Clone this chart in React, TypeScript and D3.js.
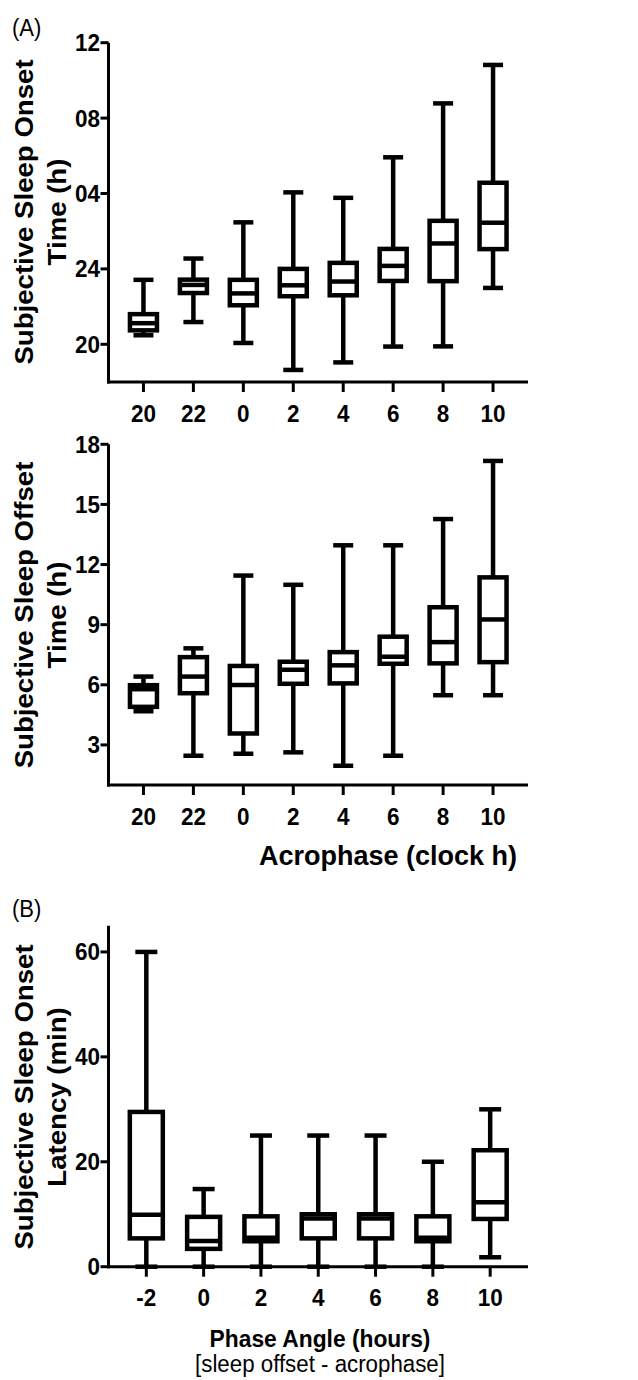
import React from "react";
import * as d3 from "d3";

// ---- Data ----
const acroCats = ["20", "22", "0", "2", "4", "6", "8", "10"];
// Sleep onset (continuous clock hours; values > 24 are after midnight)
const onsetMin = [20.48, 21.18, 20.07, 18.64, 19.04, 19.88, 19.89, 22.99];
const onsetQ1 = [20.74, 22.72, 22.07, 22.55, 22.6, 23.36, 23.35, 25.05];
const onsetMed = [21.12, 23.15, 22.7, 23.13, 23.33, 24.16, 25.35, 26.45];
const onsetQ3 = [21.6, 23.43, 23.42, 24.0, 24.32, 25.06, 26.55, 28.57];
const onsetMax = [23.42, 24.55, 26.47, 28.06, 27.77, 29.92, 32.78, 34.82];
const onsetTicks = [20, 24, 28, 32, 36];
const onsetTickLabels = ["20", "24", "04", "08", "12"];

// Sleep offset (clock hours)
const offsetMin = [4.68, 2.46, 2.56, 2.63, 1.96, 2.46, 5.48, 5.48];
const offsetQ1 = [4.9, 5.58, 3.57, 6.05, 6.07, 7.05, 7.07, 7.13];
const offsetMed = [5.78, 6.41, 5.99, 6.75, 6.97, 7.4, 8.13, 9.26];
const offsetQ3 = [5.98, 7.38, 6.94, 7.15, 7.63, 8.4, 9.87, 11.36];
const offsetMax = [6.41, 7.82, 11.45, 10.99, 12.96, 12.96, 14.27, 17.17];
const offsetTicks = [3, 6, 9, 12, 15, 18];

// Sleep onset latency (min) by phase angle
const phaseCats = ["-2", "0", "2", "4", "6", "8", "10"];
const latMin = [0, 0, 0, 0, 0, 0, 1.8];
const latQ1 = [5.4, 3.4, 4.85, 5.4, 5.4, 4.85, 9.1];
const latMed = [9.9, 4.9, 5.5, 9.2, 9.2, 5.5, 12.3];
const latQ3 = [29.5, 9.5, 9.6, 10.0, 10.0, 9.6, 22.2];
const latMax = [60, 14.8, 25, 25, 25, 20, 30];
const latTicks = [0, 20, 40, 60];

const FONT = "'Liberation Sans', Arial, Helvetica, sans-serif";
const STRETCH = 1.07;
const TICK_FS = 22.5;
const TICK_STRETCH = 1.06;
const LW = 4.5;
const AXW = 3;

type PanelProps = {
  cats: string[];
  mins: number[];
  q1s: number[];
  meds: number[];
  q3s: number[];
  maxs: number[];
  xRange: [number, number];
  pad: number;
  yDomain: [number, number];
  yRange: [number, number];
  ticks: number[];
  tickLabels: string[];
  boxW: number;
  capW: number;
  titleLines: string[];
  titleCy: number;
};

function Panel(p: PanelProps) {
  const x = d3.scalePoint<string>().domain(p.cats).range(p.xRange).padding(p.pad);
  const y = d3.scaleLinear().domain(p.yDomain).range(p.yRange);
  const axisX = p.xRange[0];
  const axisY = y(p.yDomain[0]);
  const capH = 0.716 * TICK_FS * TICK_STRETCH;
  return (
    <g>
      {p.cats.map((c, i) => {
        const cx = x(c) as number;
        const yq1 = y(p.q1s[i]);
        const yq3 = y(p.q3s[i]);
        return (
          <g key={c} stroke="#000" strokeWidth={LW} fill="none">
            <line x1={cx} x2={cx} y1={y(p.maxs[i])} y2={yq3} />
            <line x1={cx} x2={cx} y1={yq1} y2={y(p.mins[i])} />
            <line x1={cx - p.capW / 2} x2={cx + p.capW / 2} y1={y(p.maxs[i])} y2={y(p.maxs[i])} />
            <line x1={cx - p.capW / 2} x2={cx + p.capW / 2} y1={y(p.mins[i])} y2={y(p.mins[i])} />
            <rect x={cx - p.boxW / 2} y={yq3} width={p.boxW} height={yq1 - yq3} fill="#fff" />
            <line x1={cx - p.boxW / 2} x2={cx + p.boxW / 2} y1={y(p.meds[i])} y2={y(p.meds[i])} />
          </g>
        );
      })}
      <line x1={axisX} x2={axisX} y1={p.yRange[1]} y2={axisY + AXW / 2} stroke="#000" strokeWidth={AXW} />
      {p.ticks.map((t, i) => (
        <g key={"yt" + t}>
          <line x1={axisX - 8} x2={axisX} y1={y(t)} y2={y(t)} stroke="#000" strokeWidth={AXW} />
          <text
            transform={`translate(${axisX - 8.5},${y(t) + capH / 2}) scale(1,${TICK_STRETCH})`}
            textAnchor="end"
            fontFamily={FONT}
            fontWeight="bold"
            fontSize={TICK_FS}
            fill="#000"
          >
            {p.tickLabels[i]}
          </text>
        </g>
      ))}
      <line x1={axisX - AXW / 2} x2={p.xRange[1]} y1={axisY} y2={axisY} stroke="#000" strokeWidth={AXW} />
      {p.cats.map((c) => (
        <g key={"xt" + c}>
          <line x1={x(c)} x2={x(c)} y1={axisY} y2={axisY + 10} stroke="#000" strokeWidth={AXW} />
          <text
            transform={`translate(${x(c)},${axisY + 39.5}) scale(1,${TICK_STRETCH})`}
            textAnchor="middle"
            fontFamily={FONT}
            fontWeight="bold"
            fontSize={TICK_FS}
            fill="#000"
          >
            {c}
          </text>
        </g>
      ))}
      {p.titleLines.map((ln, i) => (
        <text
          key={ln}
          transform={`translate(${33 + i * 33},${p.titleCy}) scale(1,${STRETCH}) rotate(-90)`}
          textAnchor="middle"
          fontFamily={FONT}
          fontWeight="bold"
          fontSize={25.8}
          fill="#000"
        >
          {ln}
        </text>
      ))}
    </g>
  );
}

export default function App() {
  return (
    <svg
      width={638}
      height={1380}
      style={{ position: "absolute", left: 0, top: 0, background: "#fff" }}
    >
      <rect x={0} y={0} width={638} height={1380} fill="#fff" />
      <text transform={`translate(12,36) scale(1,1.05)`} fontFamily={FONT} fontSize={22} fill="#000">
        (A)
      </text>
      <Panel
        cats={acroCats}
        mins={onsetMin}
        q1s={onsetQ1}
        meds={onsetMed}
        q3s={onsetQ3}
        maxs={onsetMax}
        xRange={[108.5, 528]}
        pad={0.7}
        yDomain={[18, 36]}
        yRange={[382, 42.7]}
        ticks={onsetTicks}
        tickLabels={onsetTickLabels}
        boxW={27}
        capW={20}
        titleLines={["Subjective Sleep Onset", "Time (h)"]}
        titleCy={212}
      />
      <Panel
        cats={acroCats}
        mins={offsetMin}
        q1s={offsetQ1}
        meds={offsetMed}
        q3s={offsetQ3}
        maxs={offsetMax}
        xRange={[108.5, 528]}
        pad={0.7}
        yDomain={[1, 18]}
        yRange={[785, 444.3]}
        ticks={offsetTicks}
        tickLabels={offsetTicks.map(String)}
        boxW={27}
        capW={20}
        titleLines={["Subjective Sleep Offset", "Time (h)"]}
        titleCy={615}
      />
      <text
        transform={`translate(388,865) scale(1,1.03)`}
        textAnchor="middle"
        fontFamily={FONT}
        fontWeight="bold"
        fontSize={27}
        fill="#000"
      >
        Acrophase (clock h)
      </text>
      <text transform={`translate(12,917) scale(1,1.05)`} fontFamily={FONT} fontSize={22} fill="#000">
        (B)
      </text>
      <Panel
        cats={phaseCats}
        mins={latMin}
        q1s={latQ1}
        meds={latMed}
        q3s={latQ3}
        maxs={latMax}
        xRange={[108.5, 528]}
        pad={0.66}
        yDomain={[0, 65]}
        yRange={[1266.7, 925.7]}
        ticks={latTicks}
        tickLabels={latTicks.map(String)}
        boxW={33}
        capW={22}
        titleLines={["Subjective Sleep Onset", "Latency (min)"]}
        titleCy={1097}
      />
      <text
        transform={`translate(320,1347) scale(1,${STRETCH})`}
        textAnchor="middle"
        fontFamily={FONT}
        fontWeight="bold"
        fontSize={22.8}
        fill="#000"
      >
        Phase Angle (hours)
      </text>
      <text
        transform={`translate(320,1372) scale(1,${STRETCH})`}
        textAnchor="middle"
        fontFamily={FONT}
        fontSize={22.3}
        fill="#000"
      >
        [sleep offset - acrophase]
      </text>
    </svg>
  );
}
